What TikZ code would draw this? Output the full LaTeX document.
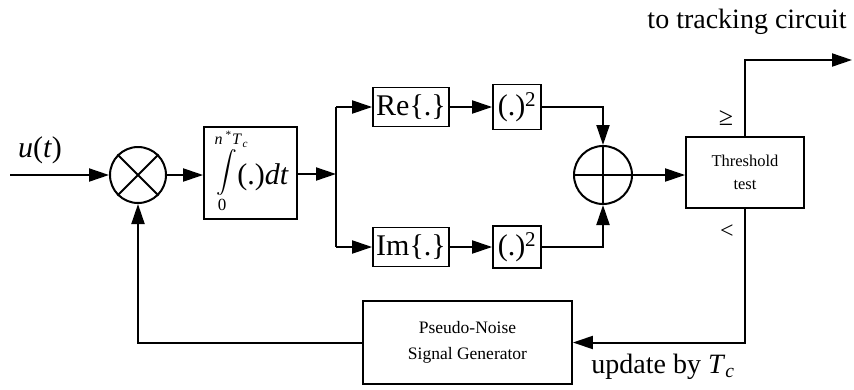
\documentclass[tikz,border=0pt]{standalone}
\usepackage{amsmath}
\usepackage{fontspec}
\setmainfont{Liberation Serif}
\usetikzlibrary{arrows.meta}
\begin{document}
\begin{tikzpicture}[x=1pt,y=-1pt, line width=2pt,
  arr/.style={-{Triangle[length=20pt,width=13pt]}},
  blk/.style={draw, line width=1.8pt, inner sep=0pt, align=center},
  big/.style={font=\fontsize{30}{32}\selectfont},
  lab/.style={font=\fontsize{28}{30}\selectfont},
  small/.style={font=\fontsize{16.5}{23}\selectfont}]
\useasboundingbox (0,0) rectangle (854,389);

% blocks
\node[draw, circle, minimum size=56pt, inner sep=0pt] (mul) at (138,175) {};
\draw (mul.north west) -- (mul.south east) (mul.north east) -- (mul.south west);
\node[blk, minimum width=93pt, minimum height=92pt] (int) at (250.5,173) {};
\node[inner sep=0pt, font=\fontsize{21}{21}\selectfont, anchor=west] (intbody) at (209,171)
  {$\displaystyle\int\limits_{\text{\fontsize{17}{17}\selectfont 0}}^{\text{\fontsize{16}{16}\selectfont\itshape n\kern2.5pt\textsuperscript{*}\kern1pt T\kern1.5pt\textsubscript{c}}}$\kern-6pt\raisebox{-6pt}{\fontsize{30}{32}\selectfont(.)\textit{dt}}};

\node[blk, big, minimum width=76pt, minimum height=39pt] (re) at (411,107) {Re\{.\}};
\node[blk, big, minimum width=48pt, minimum height=45pt] (sqa) at (517,107) {(.)\textsuperscript{2}};
\node[blk, big, minimum width=76pt, minimum height=39pt] (im) at (411,247) {Im\{.\}};
\node[blk, big, minimum width=48pt, minimum height=42pt] (sqb) at (517,247) {(.)\textsuperscript{2}};

\node[draw, circle, minimum size=58pt, inner sep=0pt] (sum) at (603,175) {};
\draw (sum.north) -- (sum.south) (sum.west) -- (sum.east);

\node[blk, small, minimum width=118pt, minimum height=71pt] (thr) at (745,172.5) {Threshold\\test};
\node[blk, font=\fontsize{17.5}{26}\selectfont, minimum width=209pt, minimum height=83pt] (pn) at (467.5,342.5) {Pseudo-Noise\\Signal Generator};

% connectors
\coordinate (in) at (10,175);
\coordinate (br) at (336,174);
\coordinate (out) at (852,60);
\draw[arr] (in) -- (mul.west);
\draw[arr] (mul.east) -- (mul.east -| int.west);
\draw[arr] (int.east |- br) -- (br);
\draw (br |- re) -- (br |- im);
\draw[arr] (br |- re) -- (re.west);
\draw[arr] (br |- im) -- (im.west);
\draw[arr] (re.east) -- (sqa.west);
\draw[arr] (im.east) -- (sqb.west);
\draw[arr] (sqa.east) -| (sum.north);
\draw[arr] (sqb.east) -| (sum.south);
\draw[arr] (sum.east) -- (sum.east -| thr.west);
\draw[arr] (thr.north) |- (out);
\draw[arr] (thr.south) |- (pn.east);
\draw[arr] (pn.west) -| (mul.south);

% labels
\node[big] (ut) at (40,150) {\textit{u}(\textit{t})};
\node[lab] (track) at (747,22) {to tracking circuit};
\node[lab] (upd) at (663,367) {update by \textit{T}\textsubscript{\textit{c}}};
\node[font=\fontsize{26}{26}\selectfont] (ge) at (726,118) {≥};
\node[font=\fontsize{24}{24}\selectfont] (lt) at (727,232) {<};
\end{tikzpicture}
\end{document}
